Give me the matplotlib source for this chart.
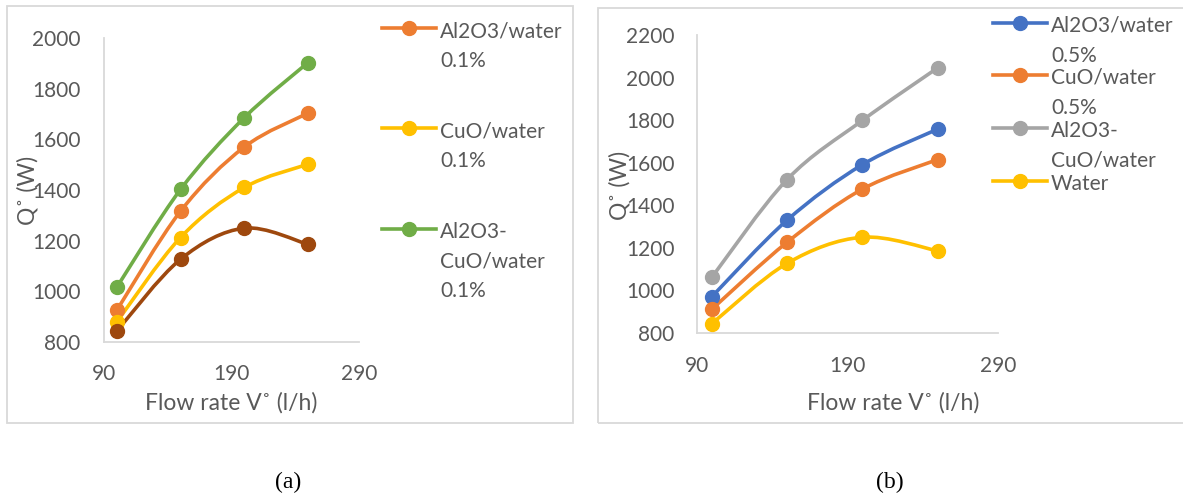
import numpy as np
import matplotlib.pyplot as plt
from matplotlib.path import Path
from matplotlib.patches import PathPatch, Rectangle
from matplotlib.lines import Line2D

plt.rcParams['font.family'] = ['Lato', 'DejaVu Sans']

# flow rate (l/h)
flow = [100, 150, 200, 250]

# panel (a): 0.1 %
water = [842, 1126, 1249, 1185]
al2o3_01 = [924, 1316, 1570, 1704]
cuo_01 = [878, 1212, 1410, 1502]
hybrid_01 = [1015, 1402, 1686, 1904]

# panel (b): 0.5 %
al2o3_05 = [969, 1329, 1590, 1757]
cuo_05 = [910, 1225, 1475, 1614]
hybrid_05 = [1060, 1520, 1798, 2045]

labels_a = ['Al2O3/water\n0.1%', 'CuO/water\n0.1%', 'Al2O3-\nCuO/water\n0.1%']
labels_b = ['Al2O3/water\n0.5%', 'CuO/water\n0.5%', 'Al2O3-\nCuO/water', 'Water']

ORANGE = '#ED7D31'
YELLOW = '#FFC000'
GREEN = '#70AD47'
BROWN = '#9E480E'
BLUE = '#4472C4'
GRAY = '#A5A5A5'
TXT = '#595959'
GRID = '#D9D9D9'

W, H = 1183, 497


def smooth_line(ax, x, y, color):
    # Excel-like smoothed line: cubic bezier through the points
    p = np.column_stack([x, y]).astype(float)
    n = len(p)
    verts = [p[0]]
    codes = [Path.MOVETO]
    for i in range(n - 1):
        prev = p[i - 1] if i > 0 else p[i]
        nxt = p[i + 2] if i + 2 < n else p[i + 1]
        c1 = p[i] + (p[i + 1] - prev) / 6
        c2 = p[i + 1] - (nxt - p[i]) / 6
        verts += [c1, c2, p[i + 1]]
        codes += [Path.CURVE4] * 3
    ax.add_patch(PathPatch(Path(verts, codes), fill=False, edgecolor=color,
                           lw=2.6, capstyle='round', zorder=2))
    ax.plot(x, y, 'o', color=color, ms=10, zorder=3)


def style_axes(ax, ylim, yticks, ypad, xpad):
    ax.set_xlim(90, 290)
    ax.set_xticks([90, 190, 290])
    ax.set_ylim(*ylim)
    ax.set_yticks(yticks)
    for s in ['top', 'right']:
        ax.spines[s].set_visible(False)
    for s in ['left', 'bottom']:
        ax.spines[s].set_color(GRID)
        ax.spines[s].set_linewidth(1.3)
    ax.tick_params(length=0, labelsize=15, colors=TXT)
    ax.tick_params(axis='y', pad=ypad)
    ax.tick_params(axis='x', pad=xpad)
    ax.set_facecolor('none')


def legend_entry(x0, y_px, color, text):
    # x0: pixel position of handle start; y_px: pixel from top
    yf = 1 - y_px / H
    fig.add_artist(Line2D([x0 / W, (x0 + 54) / W], [yf, yf], color=color, lw=2.6,
                          transform=fig.transFigure))
    fig.add_artist(Line2D([(x0 + 27) / W], [yf], marker='o', color=color, ms=10,
                          transform=fig.transFigure))
    fig.text((x0 + 58) / W, yf + 7 / H, text, ha='left', va='top', fontsize=15,
             color=TXT, linespacing=1.6)


fig = plt.figure(figsize=(W / 100, H / 100), dpi=100)

# panel borders
fig.add_artist(Rectangle((7 / W, 1 - 423 / H), 566 / W, 417 / H, fill=False,
                         edgecolor=GRID, lw=1.3, transform=fig.transFigure))
fig.add_artist(Rectangle((598 / W, 1 - 423 / H), 600 / W, 415 / H, fill=False,
                         edgecolor=GRID, lw=1.3, transform=fig.transFigure))

# (a)
ax1 = fig.add_axes([104 / W, 1 - 341.7 / H, 255 / W, 303.4 / H])
style_axes(ax1, (800, 2000), range(800, 2001, 200), 17, 16)
smooth_line(ax1, flow, hybrid_01, GREEN)
smooth_line(ax1, flow, al2o3_01, ORANGE)
smooth_line(ax1, flow, cuo_01, YELLOW)
smooth_line(ax1, flow, water, BROWN)
ax1.set_ylabel('Q˚ (W)', fontsize=16.5, color=TXT)
ax1.yaxis.set_label_coords(-0.298, 0.5)
ax1.yaxis.label.set_va('center')
ax1.set_xlabel('Flow rate V˚ (l/h)', fontsize=16.5, color=TXT)
ax1.xaxis.set_label_coords(0.5, -0.202)
ax1.xaxis.label.set_va('center')

for yy, c, t in zip([28, 128, 229], [ORANGE, YELLOW, GREEN], labels_a):
    legend_entry(382, yy, c, t)

# (b)
ax2 = fig.add_axes([696.7 / W, 1 - 332.7 / H, 301 / W, 297.7 / H])
style_axes(ax2, (800, 2200), range(800, 2201, 200), 16, 16.7)
smooth_line(ax2, flow, hybrid_05, GRAY)
smooth_line(ax2, flow, al2o3_05, BLUE)
smooth_line(ax2, flow, cuo_05, ORANGE)
smooth_line(ax2, flow, water, YELLOW)
ax2.set_ylabel('Q˚ (W)', fontsize=16.5, color=TXT)
ax2.yaxis.set_label_coords(-0.255, 0.496)
ax2.yaxis.label.set_va('center')
ax2.set_xlabel('Flow rate V˚ (l/h)', fontsize=16.5, color=TXT)
ax2.xaxis.set_label_coords(0.652, -0.236)
ax2.xaxis.label.set_va('center')

for yy, c, t in zip([23, 75, 128, 181], [BLUE, ORANGE, GRAY, YELLOW], labels_b):
    legend_entry(993, yy, c, t)

# captions
fig.text(288 / W, 1 - 482 / H, '(a)', ha='center', va='center', fontsize=17,
         family='Liberation Serif')
fig.text(890 / W, 1 - 482 / H, '(b)', ha='center', va='center', fontsize=17,
         family='Liberation Serif')

fig.savefig('out.png', dpi=100)
